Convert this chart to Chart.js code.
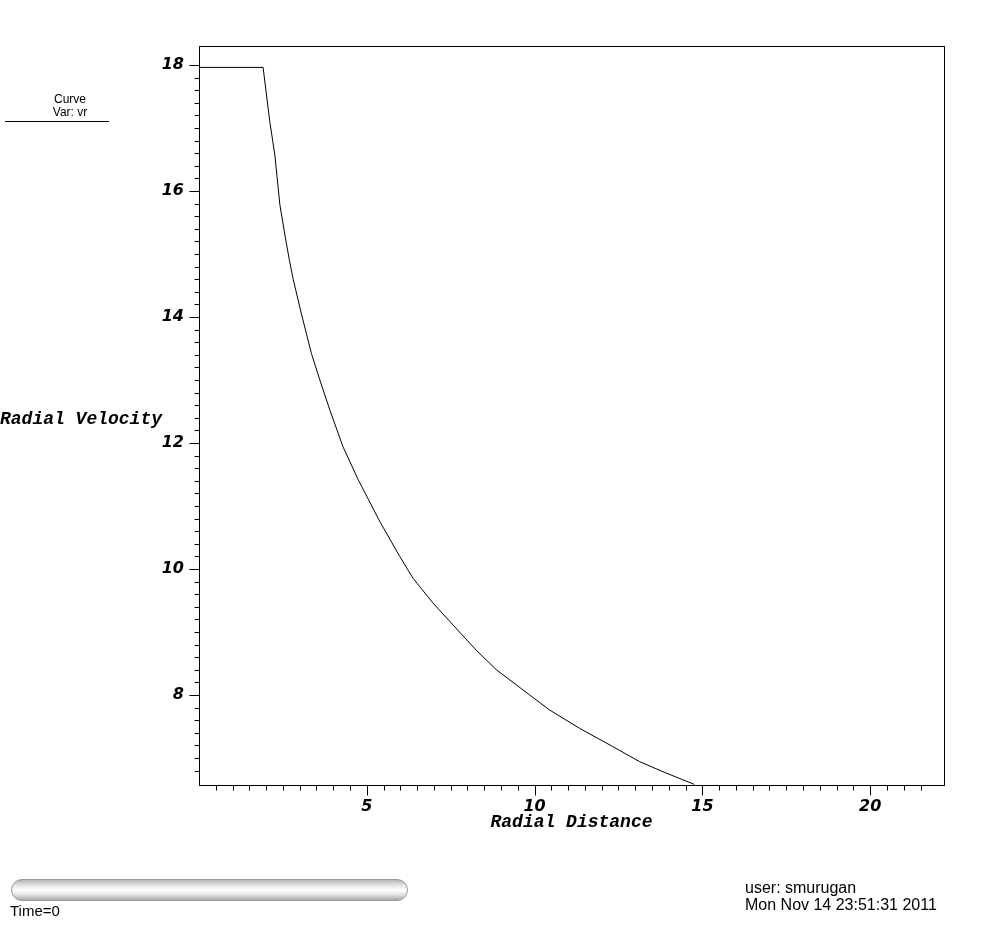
<!DOCTYPE html>
<html>
<head>
<meta charset="utf-8">
<script src="https://cdn.jsdelivr.net/npm/chart.js@4.4.1/dist/chart.umd.min.js"></script>
<style>
  body { margin: 0; background: #fff; }
  #wrap { position: relative; width: 995px; height: 925px; overflow: hidden; }
  #plot { position: absolute; left: 0; top: 0; }
  .txt { position: absolute; white-space: nowrap; color: #000; }
  #ytitle { left: 0; top: 409px; font: italic bold 18px "Liberation Mono", monospace; }
  #legend { left: 5px; top: 93px; width: 104px; font: 12px "Liberation Sans", sans-serif; line-height: 13px; }
  #legend .t { width: 130px; text-align: center; margin-left: 0; }
  #legend .rule { position: absolute; left: 0; top: 28px; width: 104px; height: 1px; background: #000; }
  #slider {
    position: absolute; left: 11px; top: 879px; width: 395px; height: 20px;
    border: 1px solid #9a9a9a; border-radius: 11px;
    background: linear-gradient(to bottom, #b8b8b8 0%, #e8e8e8 30%, #ffffff 50%, #e0e0e0 75%, #a8a8a8 100%);
  }
  #time { left: 10px; top: 902px; font: 15px "Liberation Sans", sans-serif; }
  #user { left: 745px; top: 879px; font: 16px "Liberation Sans", sans-serif; line-height: 17px; }
</style>
</head>
<body>
<div id="wrap">
  <canvas id="plot" width="995" height="925"></canvas>
  <div class="txt" id="ytitle">Radial Velocity</div>
  <div class="txt" id="legend">
    <div class="t">Curve</div>
    <div class="t">Var: vr</div>
    <div class="rule"></div>
  </div>
  <div id="slider"></div>
  <div class="txt" id="time">Time=0</div>
  <div class="txt" id="user">user: smurugan<br>Mon Nov 14 23:51:31 2011</div>
</div>
<script>
// curve values
const radius   = [0, 1.91, 2.11, 2.26, 2.41, 2.56, 2.69, 2.81, 3.06, 3.35, 3.60, 3.90, 4.29, 4.74,
                  5.39, 5.98, 6.38, 6.97, 7.57, 8.26, 8.86, 9.85, 10.45, 11.34, 12.33, 13.13, 13.92, 14.76];
const velocity = [17.96, 17.96, 17.10, 16.57, 15.78, 15.30, 14.91, 14.59, 14.03, 13.42, 13.00, 12.52, 11.94, 11.42,
                  10.75, 10.20, 9.85, 9.46, 9.11, 8.71, 8.40, 8.00, 7.76, 7.47, 7.18, 6.94, 6.76, 6.58];

const xMajorTicks = [5, 10, 15, 20];
const yMajorTicks = [8, 10, 12, 14, 16, 18];
const xRange = [0, 22.2];
const yRange = [6.57, 18.3];
const xStep = 0.5;
const yStep = 0.2;

const onStep = (v, step) => Math.abs(v / step - Math.round(v / step)) < 1e-6;
const isMajor = (v, list) => list.some(m => Math.abs(m - v) < 1e-6);

// box around the plot + long/short tick marks
const frameTicks = {
  id: 'frameTicks',
  afterDraw(chart) {
    const { ctx, chartArea: a } = chart;
    ctx.save();
    ctx.strokeStyle = '#000';
    ctx.lineWidth = 1;
    ctx.strokeRect(a.left + 0.5, a.top + 0.5, a.right - a.left, a.bottom - a.top);

    ctx.beginPath();
    const xs = chart.scales.x;
    xs.ticks.forEach(t => {
      if (!onStep(t.value, xStep) || t.value <= xRange[0]) return;
      const px = Math.round(xs.getPixelForValue(t.value)) + 0.5;
      const len = isMajor(t.value, xMajorTicks) ? 10 : 5;
      ctx.moveTo(px, a.bottom + 0.5);
      ctx.lineTo(px, a.bottom + 0.5 + len);
    });
    const ys = chart.scales.y;
    ys.ticks.forEach(t => {
      if (!onStep(t.value, yStep)) return;
      const py = Math.round(ys.getPixelForValue(t.value)) + 0.5;
      const len = isMajor(t.value, yMajorTicks) ? 10 : 5;
      ctx.moveTo(a.left + 0.5, py);
      ctx.lineTo(a.left + 0.5 - len, py);
    });
    ctx.stroke();
    ctx.restore();
  }
};

const tickFont = { family: '"DejaVu Sans", sans-serif', size: 16, style: 'italic', weight: 'bold' };

new Chart(document.getElementById('plot'), {
  type: 'scatter',
  data: {
    datasets: [{
      data: radius.map((r, i) => ({ x: r, y: velocity[i] })),
      showLine: true,
      borderColor: '#000',
      borderWidth: 1,
      pointRadius: 0,
      tension: 0
    }]
  },
  options: {
    responsive: false,
    animation: false,
    devicePixelRatio: 1,
    layout: { padding: { left: 0, top: 46, right: 51, bottom: 90 } },
    plugins: { legend: { display: false }, tooltip: { enabled: false } },
    scales: {
      x: {
        type: 'linear',
        min: xRange[0],
        max: xRange[1],
        afterFit: s => { s.height = 50; },
        border: { display: false },
        grid: { drawOnChartArea: false, drawTicks: true, tickLength: 10, color: 'rgba(0,0,0,0)' },
        ticks: {
          stepSize: xStep,
          autoSkip: false,
          maxRotation: 0,
          maxTicksLimit: 200,
          padding: 2,
          color: '#000',
          font: tickFont,
          callback: v => isMajor(v, xMajorTicks) ? String(Math.round(v)) : ''
        },
        title: {
          display: true,
          text: 'Radial Distance',
          color: '#000',
          font: { family: '"Liberation Mono", monospace', size: 18, style: 'italic', weight: 'bold' },
          padding: { top: 0, bottom: 2 }
        }
      },
      y: {
        type: 'linear',
        min: yRange[0],
        max: yRange[1],
        afterFit: s => { s.width = 199; },
        border: { display: false },
        grid: { drawOnChartArea: false, drawTicks: true, tickLength: 10, color: 'rgba(0,0,0,0)' },
        ticks: {
          stepSize: yStep,
          autoSkip: false,
          maxTicksLimit: 200,
          padding: 5,
          color: '#000',
          font: tickFont,
          callback: v => isMajor(v, yMajorTicks) ? String(Math.round(v)) : ''
        }
      }
    }
  },
  plugins: [frameTicks]
});
</script>
</body>
</html>
